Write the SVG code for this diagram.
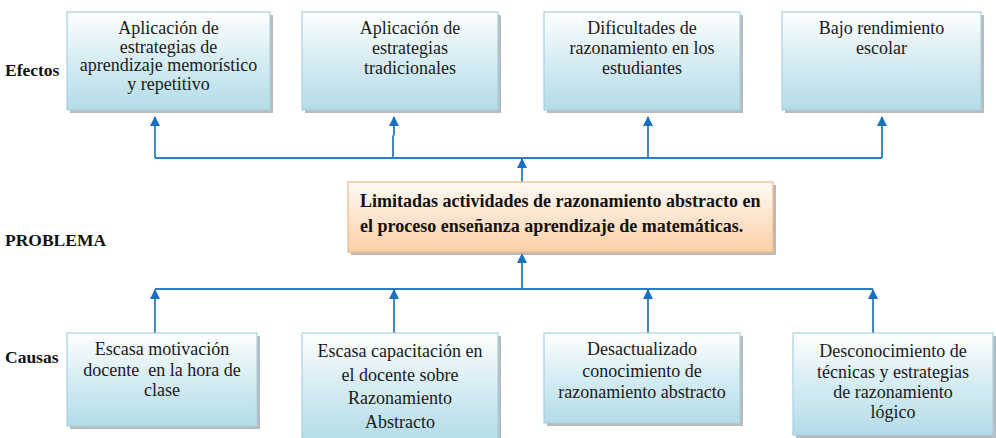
<svg xmlns="http://www.w3.org/2000/svg" width="996" height="438" viewBox="0 0 996 438">
<defs>
<linearGradient id="gBlue" x1="0" y1="0" x2="0" y2="1">
<stop offset="0" stop-color="#ffffff"/>
<stop offset="0.45" stop-color="#d9eef4"/>
<stop offset="1" stop-color="#b3dce8"/>
</linearGradient>
<linearGradient id="gOrange" x1="0" y1="0" x2="0" y2="1">
<stop offset="0" stop-color="#fffaf5"/>
<stop offset="1" stop-color="#fbcfa6"/>
</linearGradient>
<marker id="ah" viewBox="0 0 10 10" refX="9" refY="5" markerWidth="10" markerHeight="10" markerUnits="userSpaceOnUse" orient="auto">
<path d="M0,0 L10,5 L0,10 z" fill="#1a6fbf"/>
</marker>
</defs>
<style>
text{font-family:'Liberation Serif','Times New Roman',serif}
.box{fill:url(#gBlue);stroke:#a8d0de;stroke-width:1.2}
.prob{fill:url(#gOrange);stroke:#f3b88a;stroke-width:1.2}
.sh{fill:#8c8c8c;opacity:0.6}
.t{font-size:18px;fill:#1a1a1a;text-anchor:middle}
.b{font-size:17.5px;font-weight:bold;fill:#111}
.pt{font-size:18px;font-weight:bold;fill:#111}
.c{fill:none;stroke:#2b7cc4;stroke-width:1.8}
.a{fill:none;stroke:#2b7cc4;stroke-width:1.8;marker-end:url(#ah)}
</style>

<g id="labels">
<text class="b" x="5" y="76">Efectos</text>
<text class="b" x="5" y="246">PROBLEMA</text>
<text class="b" x="5" y="363">Causas</text>
</g>

<g id="connectors">
<path class="c" d="M155,158 H882"/>
<path class="a" d="M155,158 V117"/>
<path class="a" d="M393,158 V137 L394,134 V117"/>
<path class="a" d="M648,158 V117"/>
<path class="a" d="M882,158 V117"/>
<path class="a" d="M522,182 V159"/>
<path class="a" d="M522,290 V254"/>
<path class="c" d="M155,289 H873"/>
<path class="a" d="M155,333 V290"/>
<path class="a" d="M394,333 V290"/>
<path class="a" d="M648,333 V290"/>
<path class="a" d="M873,333 V290"/>
</g>

<g id="e1">
<rect class="sh" x="70" y="15" width="203" height="98"/>
<rect class="box" x="67" y="12" width="203" height="98"/>
<text class="t" x="168.5" y="34">Aplicación de</text>
<text class="t" x="168.5" y="52.5">estrategias de</text>
<text class="t" x="168.5" y="71">aprendizaje memorístico</text>
<text class="t" x="168.5" y="89.5">y repetitivo</text>
</g>
<g id="e2">
<rect class="sh" x="305" y="15" width="196" height="98"/>
<rect class="box" x="302" y="12" width="196" height="98"/>
<text class="t" x="410" y="34">Aplicación de</text>
<text class="t" x="410" y="54">estrategias</text>
<text class="t" x="410" y="74">tradicionales</text>
</g>
<g id="e3">
<rect class="sh" x="547" y="15" width="196" height="98"/>
<rect class="box" x="544" y="12" width="196" height="98"/>
<text class="t" x="642" y="34">Dificultades de</text>
<text class="t" x="642" y="54">razonamiento en los</text>
<text class="t" x="642" y="74">estudiantes</text>
</g>
<g id="e4">
<rect class="sh" x="785" y="15" width="199" height="98"/>
<rect class="box" x="782" y="12" width="199" height="98"/>
<text class="t" x="881.5" y="34">Bajo rendimiento</text>
<text class="t" x="881.5" y="54">escolar</text>
</g>

<g id="problem">
<rect class="sh" x="351" y="185" width="425" height="70"/>
<rect class="prob" x="348" y="182" width="425" height="70"/>
<text class="pt" x="360" y="207">Limitadas actividades de razonamiento abstracto en</text>
<text class="pt" x="360" y="232">el proceso enseñanza aprendizaje de matemáticas.</text>
</g>

<g id="c1">
<rect class="sh" x="70" y="336" width="190" height="93"/>
<rect class="box" x="67" y="333" width="190" height="93"/>
<text class="t" x="162" y="355">Escasa motivación</text>
<text class="t" x="162" y="375.5" xml:space="preserve">docente  en la hora de</text>
<text class="t" x="162" y="396">clase</text>
</g>
<g id="c2">
<rect class="sh" x="305" y="336" width="196" height="105"/>
<rect class="box" x="302" y="333" width="196" height="108"/>
<text class="t" x="400" y="357">Escasa capacitación en</text>
<text class="t" x="400" y="380.5">el docente sobre</text>
<text class="t" x="400" y="404">Razonamiento</text>
<text class="t" x="400" y="427.5">Abstracto</text>
</g>
<g id="c3">
<rect class="sh" x="547" y="336" width="196" height="90"/>
<rect class="box" x="544" y="333" width="196" height="90"/>
<text class="t" x="642" y="355">Desactualizado</text>
<text class="t" x="642" y="376.5">conocimiento de</text>
<text class="t" x="642" y="398">razonamiento abstracto</text>
</g>
<g id="c4">
<rect class="sh" x="796" y="336" width="200" height="102"/>
<rect class="box" x="793" y="333" width="200" height="102"/>
<text class="t" x="893" y="357">Desconocimiento de</text>
<text class="t" x="893" y="377.5">técnicas y estrategias</text>
<text class="t" x="893" y="397.5">de razonamiento</text>
<text class="t" x="893" y="417.5">lógico</text>
</g>
</svg>
